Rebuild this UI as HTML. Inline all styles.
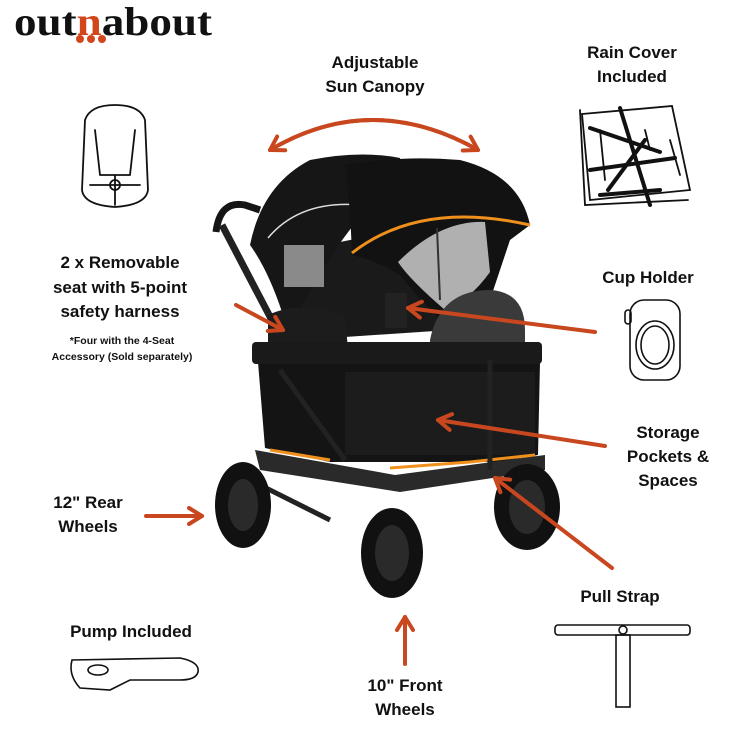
<!DOCTYPE html>
<html><head><style>
html,body{margin:0;padding:0;background:#fff;}
svg{display:block}
text{font-family:"Liberation Sans",sans-serif;font-weight:bold;fill:#111;}
</style></head><body>
<svg width="750" height="750" viewBox="0 0 750 750" xmlns="http://www.w3.org/2000/svg">
<defs>
<marker id="ah2" markerWidth="20" markerHeight="20" refX="15" refY="10" orient="auto" markerUnits="userSpaceOnUse">
<path d="M2,2 L15,10 L2,18" fill="none" stroke="#c9471f" stroke-width="4" stroke-linecap="round" stroke-linejoin="round"/>
</marker>
</defs>
<rect width="750" height="750" fill="#fff"/>
<!-- logo -->
<text x="14" y="35" font-size="40" textLength="198" lengthAdjust="spacingAndGlyphs" style="font-family:'Liberation Serif',serif">out<tspan fill="#d2461c" style="fill:#d2461c">n</tspan>about</text>
<circle cx="80" cy="39" r="4" fill="#d2461c"/><circle cx="91" cy="39" r="4" fill="#d2461c"/><circle cx="102" cy="39" r="4" fill="#d2461c"/>

<!-- labels -->
<g font-size="17" text-anchor="middle">
<text x="375" y="68">Adjustable</text><text x="375" y="92">Sun Canopy</text>
<text x="632" y="58">Rain Cover</text><text x="632" y="82">Included</text>
<text x="120" y="268">2 x Removable</text><text x="120" y="293">seat with 5-point</text><text x="120" y="317">safety harness</text>
<text x="648" y="283">Cup Holder</text>
<text x="668" y="438">Storage</text><text x="668" y="462">Pockets &amp;</text><text x="668" y="486">Spaces</text>
<text x="88" y="508">12" Rear</text><text x="88" y="532">Wheels</text>
<text x="620" y="602">Pull Strap</text>
<text x="131" y="637">Pump Included</text>
<text x="405" y="691">10" Front</text><text x="405" y="715">Wheels</text>
</g>
<g font-size="10.5" text-anchor="middle">
<text x="122" y="344">*Four with the 4-Seat</text><text x="122" y="360">Accessory (Sold  separately)</text>
</g>

<!-- wagon -->
<g>
<path d="M216,232 Q220,200 245,205 L260,210" stroke="#151515" stroke-width="7" fill="none"/>
<path d="M222,225 L345,460" stroke="#222" stroke-width="7" fill="none"/>
<path d="M300,250 L400,230 L450,330 L300,340Z" fill="#1a1a1a"/>
<path d="M250,245 Q262,185 310,160 Q360,150 400,158 L400,175 Q340,230 300,310 L282,312 Q268,270 250,245Z" fill="#161616"/>
<rect x="284" y="245" width="40" height="42" fill="#8a8a8a"/>
<path d="M268,238 Q300,200 360,205" stroke="#ddd" stroke-width="1.5" fill="none"/>
<path d="M345,165 Q400,155 460,160 Q520,175 530,225 L510,240 L480,330 L450,330 Q420,300 400,275 Q375,260 352,255 Q350,200 345,165Z" fill="#121212"/>
<path d="M352,253 Q420,200 530,225" stroke="#f0901c" stroke-width="3" fill="none"/>
<path d="M398,262 Q440,220 485,222 L490,272 Q470,300 445,310 Q410,280 398,262Z" fill="#b0b0b0"/>
<path d="M437,228 L440,300" stroke="#333" stroke-width="2"/>
<path d="M268,315 Q300,300 345,315 L348,350 L268,350Z" fill="#1c1c1c"/>
<path d="M430,340 Q440,290 490,290 Q525,292 525,330 L525,345 L430,345Z" fill="#3a3a3a"/>
<rect x="385" y="293" width="22" height="35" fill="#222"/>
<path d="M258,362 L540,362 L538,455 L500,462 L330,462 L265,448Z" fill="#141414"/>
<path d="M345,372 L535,372 L535,455 L345,455Z" fill="#1c1c1c"/>
<rect x="252" y="342" width="290" height="22" rx="4" fill="#1a1a1a"/>
<path d="M270,450 L330,460 M390,468 L470,462 L535,455" stroke="#f0901c" stroke-width="3" fill="none"/>
<path d="M255,450 L395,475 L545,455 L545,470 L400,492 L260,470Z" fill="#2a2a2a"/>
<path d="M250,480 L330,520 M280,370 L345,460" stroke="#222" stroke-width="5"/>
<path d="M490,360 L490,470" stroke="#222" stroke-width="5"/>
<ellipse cx="243" cy="505" rx="28" ry="43" fill="#111"/><ellipse cx="243" cy="505" rx="15" ry="26" fill="#2a2a2a"/>
<ellipse cx="392" cy="553" rx="31" ry="45" fill="#111"/><ellipse cx="392" cy="553" rx="17" ry="28" fill="#2a2a2a"/>
<ellipse cx="527" cy="507" rx="33" ry="43" fill="#111"/><ellipse cx="527" cy="507" rx="18" ry="27" fill="#2a2a2a"/>
</g>

<!-- arrows -->
<g stroke="#c9471f" stroke-width="4" fill="none" stroke-linecap="round">
<path d="M270,150 Q372,90 478,150" marker-end="url(#ah2)"/>
<path d="M478,150 Q372,90 270,150" marker-end="url(#ah2)"/>
<path d="M236,305 L283,330" marker-end="url(#ah2)"/>
<path d="M595,332 L408,308" marker-end="url(#ah2)"/>
<path d="M605,446 L438,420" marker-end="url(#ah2)"/>
<path d="M146,516 L202,516" marker-end="url(#ah2)"/>
<path d="M612,568 L495,478" marker-end="url(#ah2)"/>
<path d="M405,664 L405,617" marker-end="url(#ah2)"/>
</g>

<!-- sketches -->
<g stroke="#111" stroke-width="1.8" fill="none" stroke-linecap="round">
<path d="M85,120 Q90,105 115,105 Q140,105 145,120 L148,190 Q146,205 115,207 Q84,205 82,190Z"/>
<path d="M95,130 L100,175 M135,130 L130,175 M100,175 L130,175 M90,185 L140,185 M115,175 L115,205"/>
<circle cx="115" cy="185" r="5"/>
<path d="M582,114 L672,106 L690,190 L590,200Z"/>
<path d="M580,110 L585,205 L688,200"/>
<path d="M600,130 L605,180 M645,130 L650,150 M670,140 L680,175"/>
</g>
<g stroke="#111" stroke-width="4" fill="none" stroke-linecap="round">
<path d="M590,128 L660,152 M620,108 L650,205 M590,170 L675,158 M600,195 L660,190 M608,190 L645,140"/>
</g>
<g stroke="#111" stroke-width="1.6" fill="none">
<rect x="630" y="300" width="50" height="80" rx="14"/>
<ellipse cx="655" cy="345" rx="19" ry="24"/><ellipse cx="655" cy="345" rx="14" ry="19"/>
<rect x="625" y="310" width="6" height="14" rx="3"/>
<path d="M72,660 L180,658 Q200,662 198,672 Q196,680 180,680 L130,680 L110,690 L80,688 Q68,675 72,660Z"/>
<ellipse cx="98" cy="670" rx="10" ry="5"/>
<rect x="555" y="625" width="135" height="10" rx="3"/>
<rect x="616" y="635" width="14" height="72"/>
<circle cx="623" cy="630" r="4"/>
</g>
</svg>
</body></html>
